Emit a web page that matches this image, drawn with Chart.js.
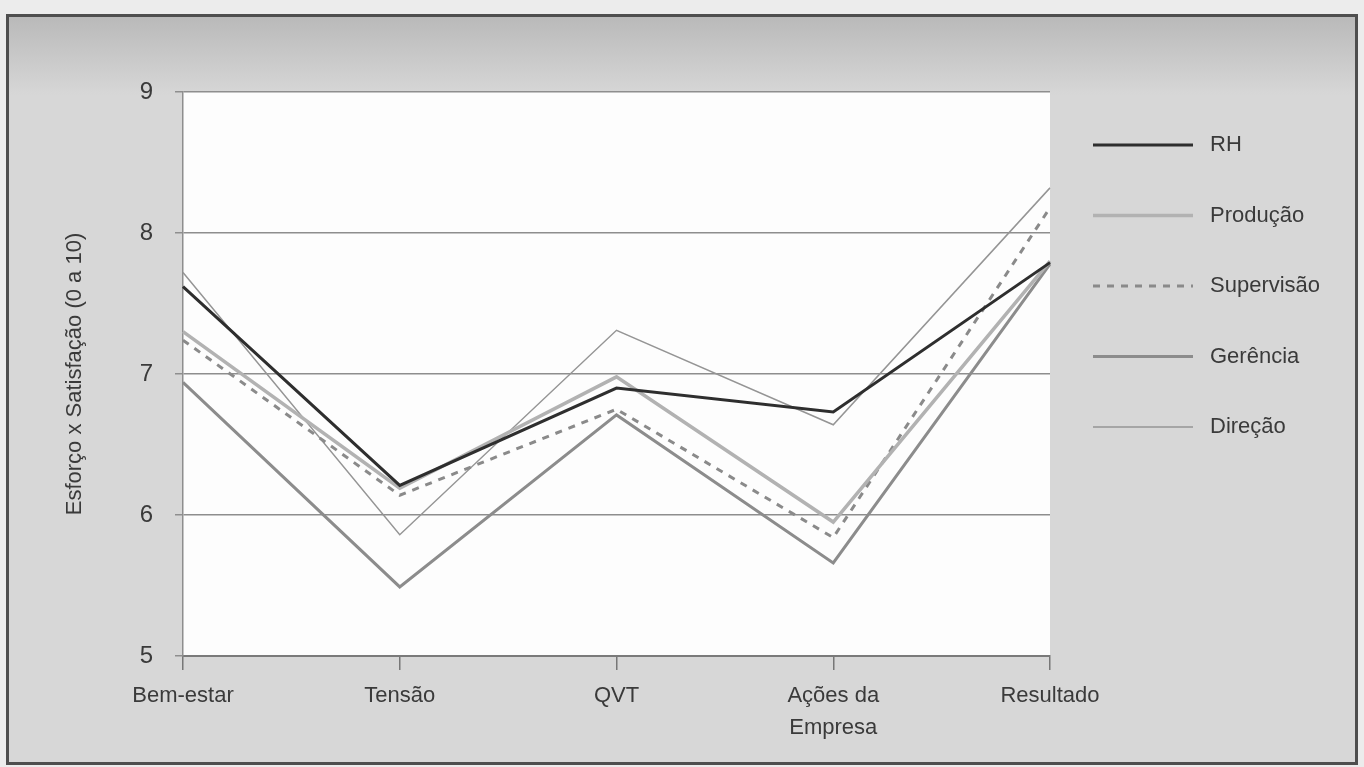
<!DOCTYPE html>
<html lang="pt">
<head>
<meta charset="utf-8">
<title>Esforço x Satisfação</title>
<script src="https://cdn.jsdelivr.net/npm/chart.js@4.4.1/dist/chart.umd.min.js"></script>
<style>
  html, body { margin: 0; padding: 0; background: #e8e8e8; }
  #wrap { position: relative; width: 1364px; height: 767px; }
</style>
</head>
<body>
<div id="wrap"><canvas id="chart"></canvas></div>
<script>
// Categories along the horizontal axis
const categories = ['Bem-estar', 'Tensão', 'QVT', ['Ações da', 'Empresa'], 'Resultado'];

// Series values (scale 0 a 10)
const rh         = [7.62, 6.21, 6.90, 6.73, 7.79];
const producao   = [7.30, 6.19, 6.98, 5.95, 7.80];
const supervisao = [7.24, 6.14, 6.75, 5.84, 8.18];
const gerencia   = [6.94, 5.49, 6.71, 5.66, 7.78];
const direcao    = [7.72, 5.86, 7.31, 6.64, 8.32];

// Vertical axis
const yTicks = [5, 6, 7, 8, 9];
const yTitle = 'Esforço x Satisfação (0 a 10)';

// Pick a condensed face for the category labels when it is installed
function fontAvailable(name) {
  const ctx = document.createElement('canvas').getContext('2d');
  const sample = 'Bem-estar Tensão QVT Resultado';
  ctx.font = '40px monospace';
  const base = ctx.measureText(sample).width;
  ctx.font = '40px "' + name + '", monospace';
  return ctx.measureText(sample).width !== base;
}
const narrow = fontAvailable('Liberation Sans Narrow');
const catFont = narrow
  ? { family: '"Liberation Sans Narrow", "Liberation Sans", Arial, sans-serif', size: 25, lineHeight: 1.28 }
  : { family: '"Liberation Sans", Arial, sans-serif', size: 22, lineHeight: 1.45 };

const textColor = '#3a3a3a';
const gridColor = '#8e8e8e';

// Grey framed panel behind the chart, white plotting area
const panelPlugin = {
  id: 'panel',
  beforeDraw(chart) {
    const { ctx, chartArea } = chart;
    ctx.save();
    ctx.fillStyle = '#ececec';
    ctx.fillRect(0, 0, chart.width, chart.height);
    const grad = ctx.createLinearGradient(0, 16, 0, 95);
    grad.addColorStop(0, '#b9b9b9');
    grad.addColorStop(1, '#d7d7d7');
    ctx.fillStyle = '#d7d7d7';
    ctx.fillRect(7, 15, 1350, 749);
    ctx.fillStyle = grad;
    ctx.fillRect(7, 15, 1350, 80);
    ctx.strokeStyle = '#4e4e4e';
    ctx.lineWidth = 3;
    ctx.strokeRect(7.5, 15.5, 1349, 748);
    ctx.fillStyle = '#fdfdfd';
    ctx.fillRect(chartArea.left, chartArea.top, chartArea.right - chartArea.left, chartArea.bottom - chartArea.top);
    ctx.restore();
  }
};

// Legend drawn as long line samples with labels, to the right of the plot
const legendPlugin = {
  id: 'sideLegend',
  afterDraw(chart) {
    const { ctx } = chart;
    const x0 = 1093, x1 = 1193, tx = 1210, y0 = 145, step = 70.5;
    ctx.save();
    ctx.font = '22px "Liberation Sans", Arial, sans-serif';
    ctx.textBaseline = 'middle';
    ctx.textAlign = 'left';
    chart.data.datasets.forEach((ds, i) => {
      const y = y0 + i * step;
      ctx.beginPath();
      ctx.strokeStyle = ds.borderColor;
      ctx.lineWidth = ds.borderWidth;
      ctx.setLineDash(ds.borderDash || []);
      ctx.moveTo(x0, y);
      ctx.lineTo(x1, y);
      ctx.stroke();
      ctx.setLineDash([]);
      ctx.fillStyle = textColor;
      ctx.fillText(ds.label, tx, y);
    });
    ctx.restore();
  }
};

const line = (label, data, color, width, dash) => ({
  label, data,
  borderColor: color,
  backgroundColor: color,
  borderWidth: width,
  borderDash: dash || [],
  pointRadius: 0,
  pointHoverRadius: 0,
  tension: 0,
  fill: false
});

new Chart(document.getElementById('chart'), {
  type: 'line',
  data: {
    labels: categories,
    datasets: [
      line('RH', rh, '#2e2e2e', 3),
      line('Produção', producao, '#b2b2b2', 3.5),
      line('Supervisão', supervisao, '#8a8a8a', 3, [7, 7]),
      line('Gerência', gerencia, '#8c8c8c', 3),
      line('Direção', direcao, '#959595', 1.5)
    ]
  },
  options: {
    responsive: true,
    maintainAspectRatio: false,
    animation: false,
    events: [],
    layout: { padding: { top: 92, right: 314, left: 0, bottom: 0 } },
    plugins: {
      legend: { display: false },
      tooltip: { enabled: false },
      title: { display: false }
    },
    scales: {
      x: {
        type: 'category',
        offset: false,
        grid: {
          display: true,
          drawOnChartArea: false,
          drawTicks: true,
          tickLength: 14,
          color: '#777777',
          lineWidth: 1.5,
          offset: false
        },
        border: { display: true, color: '#7a7a7a', width: 2 },
        ticks: {
          color: textColor,
          font: catFont,
          padding: 10,
          maxRotation: 0,
          autoSkip: false
        },
        afterFit(scale) { scale.height = 111; }
      },
      y: {
        min: yTicks[0],
        max: yTicks[yTicks.length - 1],
        afterBuildTicks(scale) { scale.ticks = yTicks.map(v => ({ value: v })); },
        grid: {
          color: gridColor,
          lineWidth: 1.5,
          drawTicks: true,
          tickLength: 8
        },
        border: { display: true, color: gridColor, width: 1.5 },
        ticks: {
          color: textColor,
          font: { family: '"Liberation Sans", Arial, sans-serif', size: 24 },
          padding: 22
        },
        title: {
          display: true,
          text: yTitle,
          color: textColor,
          font: { family: '"Liberation Sans", Arial, sans-serif', size: 22 },
          padding: { top: 62, bottom: 0 }
        },
        afterFit(scale) { scale.width = 183; }
      }
    }
  },
  plugins: [panelPlugin, legendPlugin]
});
</script>
</body>
</html>
